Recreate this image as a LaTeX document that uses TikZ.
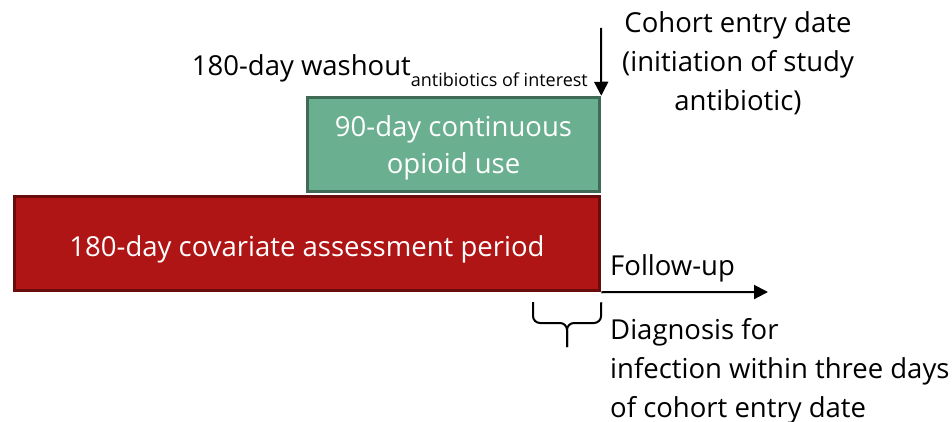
\documentclass[tikz,border=0pt]{standalone}
\usepackage{fontspec}
\setmainfont{Open Sans}
\usetikzlibrary{arrows.meta}
\definecolor{periodred}{HTML}{B01515}
\definecolor{periodredline}{HTML}{6A0C0C}
\definecolor{opioidgreen}{HTML}{6AAF8F}
\definecolor{opioidgreenline}{HTML}{3E6A56}
\tikzset{
  periodbox/.style={draw, line width=3.5pt, minimum height=94pt, inner sep=0pt},
  box text/.style={text=white, align=center, inner sep=0pt, font=\fontsize{27.5}{37}\selectfont},
  label text/.style={align=left, inner sep=0pt, font=\fontsize{27.5}{39}\selectfont},
}
\begin{document}
\begin{tikzpicture}[x=1pt, y=1pt, >={Triangle[length=14pt, width=14pt]}]
  \useasboundingbox (0,0) rectangle (952,-422);

  % 时间轴上的关键点
  \coordinate (top) at (601,-28);
  \coordinate (end) at (768,-292);

  % 两个时间段
  \node[periodbox, fill=periodred, draw=periodredline, minimum width=585pt]
    (cov) at (307,-243.5) {};
  \node[periodbox, fill=opioidgreen, draw=opioidgreenline, minimum width=292pt]
    (opioid) at (453.5,-144.5) {};
  \node[box text, yshift=-6pt] (covtext) at (cov) {180-day covariate assessment period};
  \node[box text, yshift=-3pt] (opioidtext) at (opioid) {90-day continuous\\opioid use};

  % 入组日期箭头和随访箭头
  \draw[->, line width=2pt] (top) -- (opioid.north east);
  \draw[->, line width=2pt] (cov.south east) -- (end);

  % 三天内的诊断
  \coordinate (tip) at (567,-347);
  \draw[line width=2pt, rounded corners=7pt]
    (533,-302) -- (533,-323) -- (567,-323) -- (tip);
  \draw[line width=2pt, rounded corners=7pt]
    (cov.south east) ++(0,-10) -- (601,-323) -- (567,-323) -- (tip);

  % 文字
  \node[label text, align=center] (entrytext) at (738,-63)
    {Cohort entry date\\(initiation of study\\antibiotic)};
  \node[label text, anchor=base east] (washout) at (588,-76)
    {180-day washout{\fontsize{18}{20}\selectfont\raisebox{-11pt}{antibiotics of interest}}};
  \node[label text, anchor=base west] (followup) at (610,-275) {Follow-up};
  \node[label text, anchor=north west] (diagnosis) at (610,-318)
    {Diagnosis for\\infection within three days\\of cohort entry date};
\end{tikzpicture}
\end{document}
